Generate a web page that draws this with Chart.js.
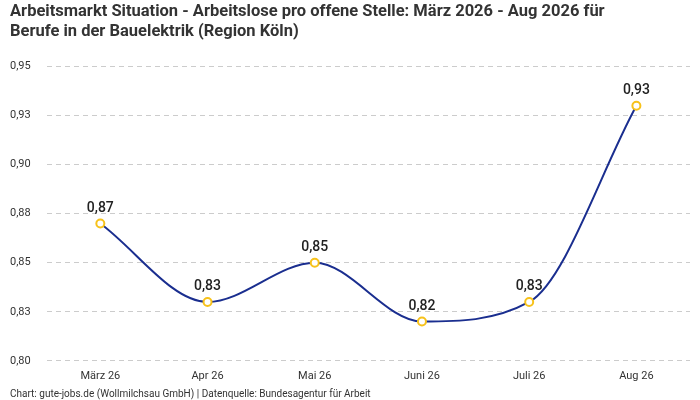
<!DOCTYPE html>
<html>
<head>
<meta charset="utf-8">
<script src="https://cdn.jsdelivr.net/npm/chart.js@4"></script>
<style>
  html, body { margin: 0; padding: 0; background: #fff; }
  #wrap { width: 700px; height: 400px; }
</style>
</head>
<body>
<div id="wrap"><canvas id="grafico-linha"></canvas></div>
<script>
// DADOS DO GRÁFICO
const monate = ['März 26', 'Apr 26', 'Mai 26', 'Juni 26', 'Juli 26', 'Aug 26'];
const arbeitslose_pro_stelle = [0.87, 0.83, 0.85, 0.82, 0.83, 0.93];
const y_min = 0.80;
const y_max = 0.95;
const y_schritt = 0.025;

const fmt = new Intl.NumberFormat('de-DE', { minimumFractionDigits: 2, maximumFractionDigits: 2 });
const schrift = 'Roboto';

// round half up on 2 decimals (0.825 -> 0,83)
function zahl(v) {
    return fmt.format(Math.round(Math.round(v * 1000) / 10) / 100);
}

// labels above the points
const werteLabels = {
    id: 'werteLabels',
    afterDatasetsDraw(chart) {
        const ctx = chart.ctx;
        const meta = chart.getDatasetMeta(0);
        ctx.save();
        ctx.font = '500 14px ' + schrift;
        ctx.fillStyle = '#222';
        ctx.textAlign = 'center';
        ctx.textBaseline = 'bottom';
        meta.data.forEach((pt, i) => {
            ctx.fillText(zahl(chart.data.datasets[0].data[i]), pt.x, pt.y - 8);
        });
        ctx.restore();
    }
};

function gerarGrafico() {
    let ctx = document.getElementById('grafico-linha').getContext('2d');

    let data = {
        labels: monate,
        datasets: [{
            data: arbeitslose_pro_stelle,
            borderColor: '#1a2e8f',
            borderWidth: 2,
            cubicInterpolationMode: 'monotone',
            pointRadius: 4,
            pointHoverRadius: 4,
            pointBorderWidth: 2,
            pointBorderColor: '#f7c21b',
            pointBackgroundColor: '#ffffff',
            fill: false
        }]
    };

    new Chart(ctx, {
        type: 'line',
        data: data,
        plugins: [werteLabels],
        options: {
            responsive: true,
            maintainAspectRatio: false,
            animation: false,
            layout: { padding: { left: 10, right: 10, top: 0, bottom: 0 } },
            plugins: {
                legend: { display: false },
                tooltip: { enabled: false },
                title: {
                    display: true,
                    align: 'start',
                    text: ['Arbeitsmarkt Situation - Arbeitslose pro offene Stelle: März 2026 - Aug 2026 für',
                           'Berufe in der Bauelektrik (Region Köln)'],
                    color: '#333',
                    font: { family: schrift, size: 16.5, weight: 'bold', lineHeight: 1.2 },
                    padding: { top: 2, bottom: 25 }
                },
                subtitle: {
                    display: true,
                    position: 'bottom',
                    align: 'start',
                    text: 'Chart: gute-jobs.de (Wollmilchsau GmbH) | Datenquelle: Bundesagentur für Arbeit',
                    color: '#333',
                    font: { family: schrift, size: 10, lineHeight: 1 },
                    padding: { top: 5, bottom: 1 }
                }
            },
            scales: {
                x: {
                    offset: true,
                    grid: { display: false },
                    border: { display: false },
                    ticks: { color: '#333', font: { family: schrift, size: 11 }, padding: 1 }
                },
                y: {
                    min: y_min,
                    max: y_max,
                    border: { display: false, dash: [5, 4] },
                    grid: { color: '#cccccc', drawTicks: false },
                    ticks: {
                        stepSize: y_schritt,
                        color: '#333',
                        font: { family: schrift, size: 11 },
                        crossAlign: 'far',
                        padding: 8,
                        callback: v => zahl(v)
                    }
                }
            }
        }
    });
}

gerarGrafico();
</script>
</body>
</html>
